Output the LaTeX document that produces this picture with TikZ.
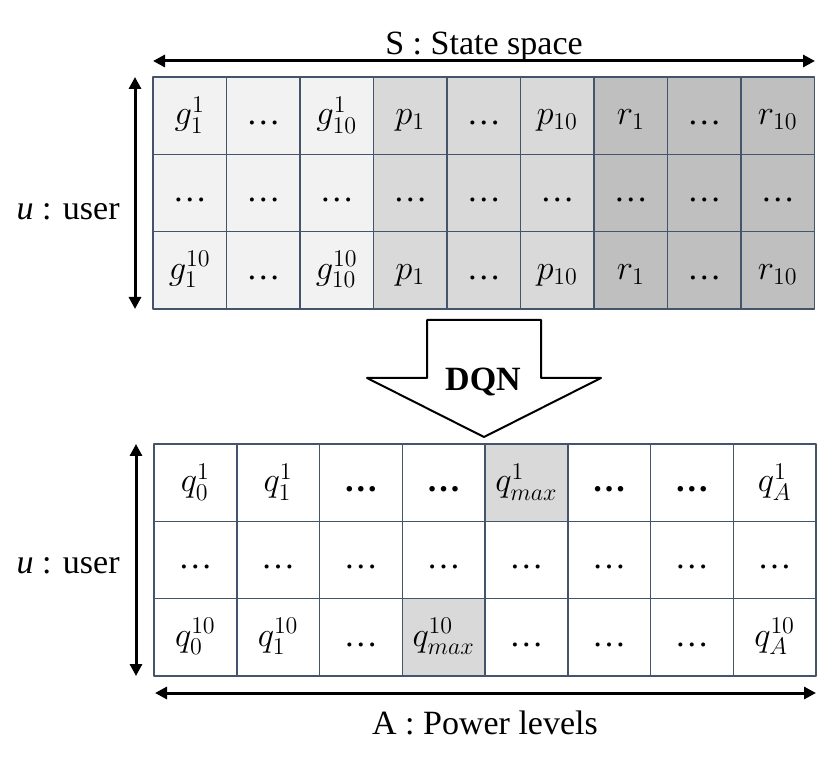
\documentclass[tikz,border=0pt]{standalone}
\usepackage{fontspec}
\setmainfont{Liberation Serif}
\usetikzlibrary{arrows.meta}

\definecolor{gridline}{HTML}{44546A}
\definecolor{shade1}{HTML}{F2F2F2}
\definecolor{shade2}{HTML}{D9D9D9}
\definecolor{shade3}{HTML}{BFBFBF}

\begin{document}
\begin{tikzpicture}[x=0.5pt, y=-0.5pt, line cap=round, line join=round, >={Triangle[length=6pt, width=6pt]},
    cell/.style={draw=gridline, line width=0.75pt, minimum height=38.65pt, inner sep=0pt,
        text height=12pt, text depth=3pt, font=\fontsize{17}{20}\selectfont},
    topcell/.style={cell, minimum width=36.75pt},
    botcell/.style={cell, minimum width=41.375pt},
    lbl/.style={font=\fontsize{17}{20}\selectfont, inner sep=0pt}]

    \useasboundingbox (0,0) rectangle (830,764);

    % Define cell sizes (pixels)
    \def\cw{73.5}
    \def\aw{82.75}
    \def\ch{77.3}

    % State space grid
    \foreach \lab [count=\c] in {g_1^1, \mbox{\dots}, g_{10}^1, p_1, \mbox{\dots}, p_{10}, r_1, \mbox{\dots}, r_{10}} {
        \pgfmathtruncatemacro\grp{(\c+2)/3}
        \node[topcell, fill=shade\grp] (s1-\c) at ({153+\cw*(\c-0.5)}, {77+\ch*0.5}) {$\lab$};
    }
    \foreach \c in {1,...,9} {
        \pgfmathtruncatemacro\grp{(\c+2)/3}
        \node[topcell, fill=shade\grp] (s2-\c) at ({153+\cw*(\c-0.5)}, {77+\ch*1.5}) {\dots};
    }
    \foreach \lab [count=\c] in {g_1^{10}, \mbox{\dots}, g_{10}^{10}, p_1, \mbox{\dots}, p_{10}, r_1, \mbox{\dots}, r_{10}} {
        \pgfmathtruncatemacro\grp{(\c+2)/3}
        \node[topcell, fill=shade\grp] (s3-\c) at ({153+\cw*(\c-0.5)}, {77+\ch*2.5}) {$\lab$};
    }

    % Power level grid
    \foreach \lab/\fl [count=\c] in {q_0^1/white, q_1^1/white, \textbf{\dots}/white, \textbf{\dots}/white,
        q_{max}^1/shade2, \textbf{\dots}/white, \textbf{\dots}/white, q_A^1/white} {
        \node[botcell, fill=\fl] (a1-\c) at ({154+\aw*(\c-0.5)}, {444+\ch*0.5}) {$\lab$};
    }
    \foreach \c in {1,...,8} {
        \node[botcell, fill=white] (a2-\c) at ({154+\aw*(\c-0.5)}, {444+\ch*1.5}) {\dots};
    }
    \foreach \lab/\fl [count=\c] in {q_0^{10}/white, q_1^{10}/white, \mbox{\dots}/white, q_{max}^{10}/shade2,
        \mbox{\dots}/white, \mbox{\dots}/white, \mbox{\dots}/white, q_A^{10}/white} {
        \node[botcell, fill=\fl] (a3-\c) at ({154+\aw*(\c-0.5)}, {444+\ch*2.5}) {$\lab$};
    }

    % Axes
    \coordinate (sl) at (153,61);
    \coordinate (sr) at (815,61);
    \coordinate (ut) at (135,77);
    \coordinate (ub) at (135,309);
    \coordinate (vt) at (136,444);
    \coordinate (vb) at (136,676);
    \coordinate (al) at (155,693);
    \coordinate (ar) at (816,693);
    \draw[<->, line width=1.5pt] (sl) -- (sr);
    \draw[<->, line width=1.5pt] (ut) -- (ub);
    \draw[<->, line width=1.5pt] (vt) -- (vb);
    \draw[<->, line width=1.5pt] (al) -- (ar);

    % Labels
    \node[lbl, anchor=base] (stitle) at (484,55) {S : State space};
    \node[lbl, anchor=base east] (uone) at (120,220) {\textit{u} : user};
    \node[lbl, anchor=base east] (utwo) at (120,573) {\textit{u} : user};
    \node[lbl, anchor=base] (atitle) at (485,734) {A : Power levels};

    % DQN arrow
    \draw[line width=1pt, fill=white] (427,320) -- (541,320) -- (541,378) -- (601,378)
        -- (484,437) -- (367,378) -- (427,378) -- cycle;
    \node[lbl, font=\fontsize{17}{20}\selectfont\bfseries] (dqn) at (483,382) {DQN};

\end{tikzpicture}
\end{document}
